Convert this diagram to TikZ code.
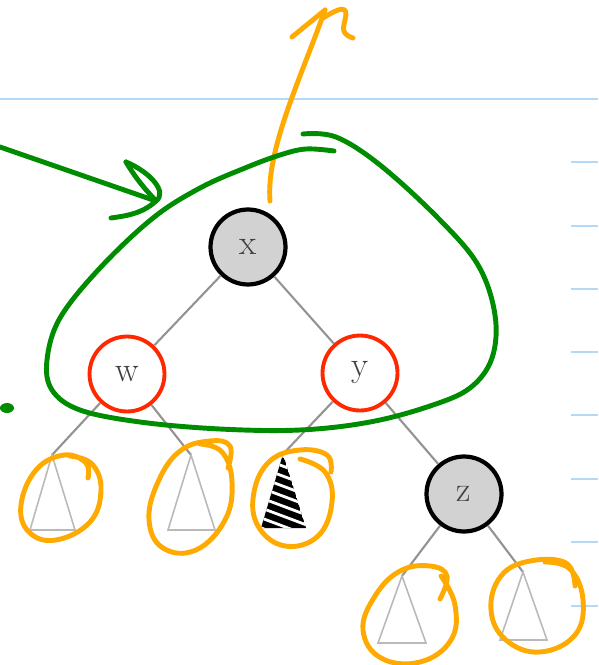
\documentclass[tikz,border=0pt]{standalone}
\usetikzlibrary{arrows.meta,positioning}
\definecolor{ruleblue}{RGB}{179,217,247}
\definecolor{penorange}{RGB}{255,170,0}
\definecolor{pengreen}{RGB}{0,140,0}
\definecolor{penred}{RGB}{255,40,0}

\begin{document}
\begin{tikzpicture}[
    x=0.02cm, y=-0.02cm,
    every node/.style={font=\fontsize{20}{24}\selectfont},
    blacknode/.style={circle, fill=gray!35, draw=black, line width=2.4pt, minimum size=1.5cm, inner sep=0pt, text=black!75},
    rednode/.style={circle, fill=white, draw=penred, line width=2.2pt, minimum size=1.5cm, inner sep=0pt, text=black!75},
    treeedge/.style={draw=gray!85, line width=1.2pt},
    subtree/.style={draw=gray!55, line width=0.9pt},
    pen/.style={line width=2.8pt, line cap=round, line join=round},
    ruleline/.style={draw=ruleblue, line width=1.2pt}
]
\useasboundingbox (0,0) rectangle (598,665);

% lined paper
\draw[ruleline] (0,99) -- (598,99);
\foreach \ty in {162,226,289,352,415,479,542,606}
  \draw[ruleline] (571,\ty) -- (598,\ty);

% tree
\node[blacknode] (x) at (248,247) {x};
\node[rednode]   (w) at (127,374) {w};
\node[rednode]   (y) at (360,373) {y};
\node[blacknode] (z) at (464,494) {z};

\coordinate (t1) at (52,455);
\coordinate (t2) at (191,455);
\coordinate (t3) at (283,454);
\coordinate (t4) at (402,576);
\coordinate (t5) at (523,572);

\draw[treeedge] (x) -- (w);
\draw[treeedge] (x) -- (y);
\draw[treeedge] (w) -- (t1);
\draw[treeedge] (w) -- (t2);
\draw[treeedge] (y) -- (t3);
\draw[treeedge] (y) -- (z);
\draw[treeedge] (z) -- (t4);
\draw[treeedge] (z) -- (t5);

% subtrees
\draw[subtree] (t1) -- ++(-22,75) -- ++(45,0) -- cycle;
\draw[subtree] (t2) -- ++(-23,75) -- ++(47,0) -- cycle;
\draw[subtree] (t4) -- ++(-24,67) -- ++(48,0) -- cycle;
\draw[subtree] (t5) -- ++(-23,68) -- ++(47,0) -- cycle;
\begin{scope}
  \clip (t3) -- ++(-22,74) -- ++(45,0) -- cycle;
  \fill[black] (t3) -- ++(-22,74) -- ++(45,0) -- cycle;
  \foreach \k in {0,...,8}
    \draw[white, line width=1.6pt] (240,440+10*\k) -- ++(80,30);
\end{scope}

% orange circles round the subtrees
\draw[pen, penorange] plot[smooth, tension=0.7] coordinates {(88,478) (86,463) (64,455) (36,470) (21,505) (29,532) (56,540) (90,522) (101,490) (92,464) (70,456)};
\draw[pen, penorange] plot[smooth, tension=0.7] coordinates {(228,468) (230,446) (210,441) (180,451) (158,482) (149,520) (163,548) (196,550) (225,520) (232,482) (222,452) (200,444)};
\draw[pen, penorange] plot[smooth, tension=0.7] coordinates {(331,472) (327,455) (300,450) (270,461) (254,492) (258,526) (285,546) (318,536) (332,502) (325,472) (300,459)};
\draw[pen, penorange] plot[smooth, tension=0.7] coordinates {(440,599) (447,576) (430,566) (400,571) (375,596) (363,630) (381,658) (420,662) (451,640) (455,605) (441,576)};
\draw[pen, penorange] plot[smooth, tension=0.7] coordinates {(575,586) (566,563) (530,561) (501,576) (491,610) (506,640) (540,652) (575,635) (583,600) (570,569) (545,562)};

% orange arrow out of x
\coordinate (up) at (325,10);
\draw[pen, penorange] (270,201) .. controls (266,150) and (300,80) .. (up);
\draw[pen, penorange] (292,37) -- (up);
\draw[pen, penorange] (323,18) .. controls (333,12) and (346,4) .. (346,14)
  .. controls (345,25) and (338,33) .. (353,38);

% green loop round x, w, y
\draw[pen, pengreen] plot[smooth, tension=0.6] coordinates {(303,134) (336,137) (380,165) (438,218) (478,265) (495,315) (492,358) (470,388) (430,406) (370,422) (300,430) (220,429) (140,422) (80,410) (52,390) (47,360) (60,318) (100,268) (153,218) (200,188) (245,168) (280,155) (306,149) (334,151)};

% green arrow from the left
\coordinate (from) at (0,147);
\coordinate (tip) at (156,201);
\draw[pen, pengreen] (from) -- (tip);
\draw[pen, pengreen] (126,162) .. controls (138,182) and (148,192) .. (tip);
\draw[pen, pengreen] (126,162) .. controls (150,172) and (168,192) .. (tip)
  .. controls (142,214) and (125,216) .. (111,218);
\fill[pengreen] (7,408) ellipse [x radius=7, y radius=5];

\end{tikzpicture}
\end{document}
